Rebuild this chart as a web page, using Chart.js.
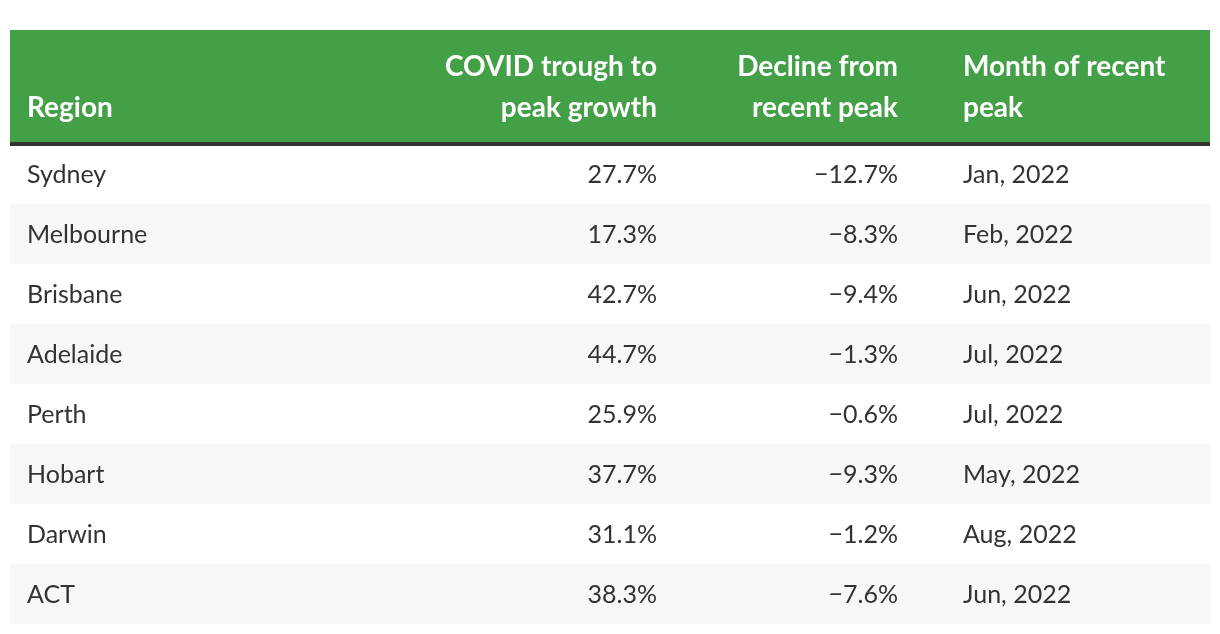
<!DOCTYPE html>
<html>
<head>
<meta charset="utf-8">
<script src="https://cdn.jsdelivr.net/npm/chart.js@4.4.1/dist/chart.umd.min.js"></script>
<style>
    html, body { margin: 0; padding: 0; background: #fff; }
    #wrap { width: 1220px; height: 634px; }
</style>
</head>
<body>
<div id="wrap"><canvas id="table"></canvas></div>
<script>
// Données du tableau
const regions = ['Sydney', 'Melbourne', 'Brisbane', 'Adelaide', 'Perth', 'Hobart', 'Darwin', 'ACT'];
const troughToPeak = [27.7, 17.3, 42.7, 44.7, 25.9, 37.7, 31.1, 38.3];
const declineFromPeak = [-12.7, -8.3, -9.4, -1.3, -0.6, -9.3, -1.2, -7.6];
const peakMonths = ['Jan, 2022', 'Feb, 2022', 'Jun, 2022', 'Jul, 2022', 'Jul, 2022', 'May, 2022', 'Aug, 2022', 'Jun, 2022'];
const headers = [['Region'], ['COVID trough to', 'peak growth'], ['Decline from', 'recent peak'], ['Month of recent', 'peak']];

const FONT = 'Lato, "Open Sans", sans-serif';
const pct = v => (v < 0 ? '\u2212' : '') + Math.abs(v).toFixed(1) + '%';

// colonnes : position sur l'axe x (0..1200) et alignement
const columns = [
    { x: 17,  align: 'left',  cell: i => regions[i] },
    { x: 647, align: 'right', cell: i => pct(troughToPeak[i]) },
    { x: 888, align: 'right', cell: i => pct(declineFromPeak[i]) },
    { x: 953, align: 'left',  cell: i => peakMonths[i] }
];

// Plugin qui dessine l'en-tête et le texte des cellules
const tablePlugin = {
    id: 'tableText',
    afterDraw(chart) {
        const { ctx, chartArea, scales: { x, y } } = chart;
        ctx.save();

        // bandeau vert + filet sombre
        ctx.fillStyle = '#43a047';
        ctx.fillRect(chartArea.left, 30, chartArea.width, y.top - 2 - 30);
        ctx.fillStyle = '#333333';
        ctx.fillRect(chartArea.left, y.top - 2, chartArea.width, 4);

        // titres
        ctx.fillStyle = '#ffffff';
        ctx.font = 'bold 28px ' + FONT;
        ctx.textBaseline = 'alphabetic';
        headers.forEach((lines, c) => {
            ctx.textAlign = columns[c].align;
            const px = x.getPixelForValue(columns[c].x);
            lines.slice().reverse().forEach((line, k) => {
                ctx.fillText(line, px, y.top - 27 - k * 41);
            });
        });

        // cellules
        ctx.fillStyle = '#333333';
        ctx.font = '25px ' + FONT;
        regions.forEach((r, i) => {
            const py = y.getPixelForValue(i) + 9;
            columns.forEach(col => {
                ctx.textAlign = col.align;
                ctx.fillText(col.cell(i), x.getPixelForValue(col.x), py);
            });
        });
        ctx.restore();
    }
};

new Chart(document.getElementById('table'), {
    type: 'bar',
    data: {
        labels: regions,
        datasets: [{
            data: regions.map(() => [0, 1200]),
            backgroundColor: regions.map((r, i) => i % 2 === 0 ? '#ffffff' : '#f7f7f7'),
            borderWidth: 0,
            barPercentage: 1,
            categoryPercentage: 1
        }]
    },
    options: {
        indexAxis: 'y',
        responsive: true,
        maintainAspectRatio: false,
        animation: false,
        layout: { padding: { top: 144, bottom: 10, left: 10, right: 10 } },
        plugins: {
            legend: { display: false },
            tooltip: { enabled: false }
        },
        scales: {
            x: { display: false, min: 0, max: 1200 },
            y: {
                z: 1,
                border: { display: false },
                ticks: { display: false },
                grid: {
                    offset: true,
                    drawTicks: false,
                    tickLength: 0,
                    lineWidth: 2,
                    // pas de filet en haut ni en bas du tableau
                    color: ctx => (ctx.type !== 'tick' || ctx.index === 0) ? 'rgba(0,0,0,0)' : '#e6e6e6'
                }
            }
        }
    },
    plugins: [tablePlugin]
});
</script>
</body>
</html>
